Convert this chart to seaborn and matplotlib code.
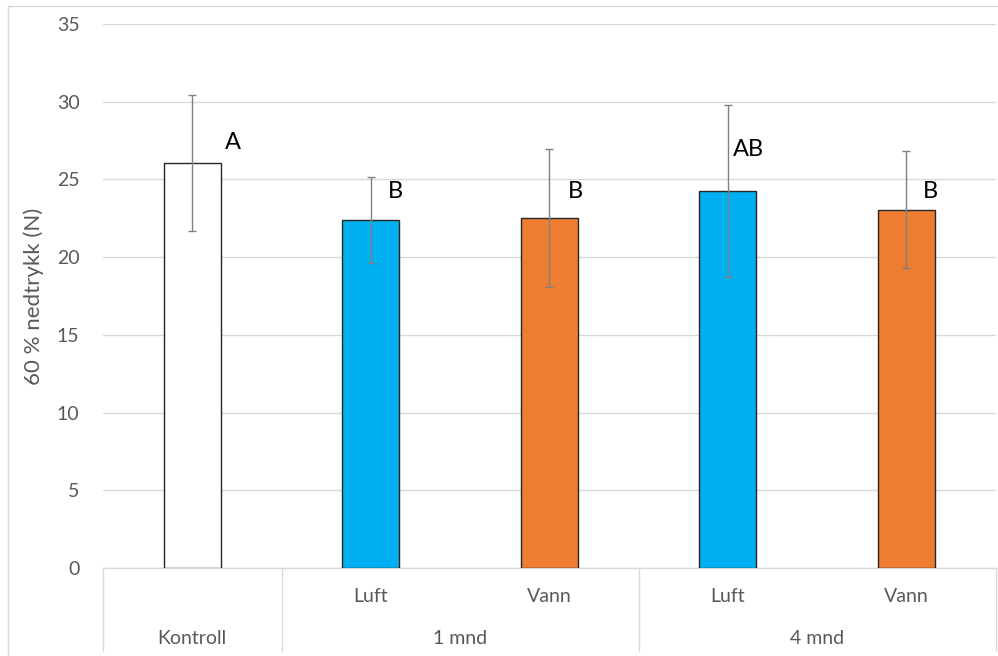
import numpy as np
import pandas as pd
import matplotlib
matplotlib.use("Agg")
import matplotlib.pyplot as plt
import matplotlib.transforms as mtransforms
import seaborn as sns

# ---- data ----
groups = ["Kontroll", "1 mnd", "1 mnd", "4 mnd", "4 mnd"]
treatments = ["", "Luft", "Vann", "Luft", "Vann"]
means = [26.05, 22.4, 22.5, 24.25, 23.05]
errors = [4.4, 2.75, 4.45, 5.55, 3.75]
letters = ["A", "B", "B", "AB", "B"]
letter_y = [27.35, 24.2, 24.2, 26.95, 24.2]
letter_dx = [0.23, 0.14, 0.145, 0.115, 0.135]
colors = ["#ffffff", "#00b0f0", "#ed7d31", "#00b0f0", "#ed7d31"]
group_labels = ["Kontroll", "1 mnd", "4 mnd"]
group_spans = [(0, 0), (1, 2), (3, 4)]
yticks = [0, 5, 10, 15, 20, 25, 30, 35]

sns.set_theme(style="white")
plt.rcParams["font.family"] = ["Lato", "DejaVu Sans"]

W, H = 998, 656
fig = plt.figure(figsize=(W / 100, H / 100), dpi=100)
left, right, top, bottom = 103, 995.5, 24, 568
ax = fig.add_axes([left / W, 1 - bottom / H, (right - left) / W, (bottom - top) / H])

keys = [f"bar{i}" for i in range(len(means))]
df = pd.DataFrame({"key": keys, "value": means})
sns.barplot(data=df, x="key", y="value", hue="key", palette=dict(zip(keys, colors)),
            order=keys, width=0.32, edgecolor="#262626", linewidth=1.0, saturation=1,
            legend=False, errorbar=None, ax=ax, zorder=3)

xs = np.arange(len(means))
ax.errorbar(xs, means, yerr=errors, fmt="none", ecolor="#808080",
            elinewidth=1.0, capsize=3, capthick=1.0, zorder=4)

for i, (lab, ly, dx) in enumerate(zip(letters, letter_y, letter_dx)):
    ax.text(i + dx, ly, lab, ha="center", va="center", fontsize=17, color="black", zorder=5)

ax.set_xlim(-0.5, len(means) - 0.5)
ax.set_ylim(0, 35)
ax.set_yticks(yticks)
ax.set_yticklabels([str(t) for t in yticks], color="#595959", fontsize=14)
ax.tick_params(axis="y", length=0, pad=17)
ax.yaxis.grid(True, color="#d9d9d9", linewidth=1.0, zorder=0)
ax.set_axisbelow(True)
for s in ["top", "right", "left"]:
    ax.spines[s].set_visible(False)
ax.spines["bottom"].set_color("#d9d9d9")
ax.spines["bottom"].set_linewidth(1.0)
ax.set_xticks([])
ax.set_xlabel("")
ax.set_ylabel("60 % nedtrykk (N)", color="#595959", fontsize=16, labelpad=8)
ax.yaxis.set_label_coords(-(left - 44) / (right - left), 0.5)

# multi-level category table under x-axis
axh = bottom - top
trans = mtransforms.blended_transform_factory(ax.transData, ax.transAxes)
row1 = -(597 - bottom) / axh
row2 = -(638 - bottom) / axh
tbot = -(651 - bottom) / axh
for i, t in enumerate(treatments):
    if t:
        ax.text(i, row1, t, transform=trans, ha="center", va="center",
                color="#595959", fontsize=14, clip_on=False)
bounds = set()
for lab, (a, b) in zip(group_labels, group_spans):
    ax.text((a + b) / 2, row2, lab, transform=trans, ha="center", va="center",
            color="#595959", fontsize=14, clip_on=False)
    bounds.add(a - 0.5)
    bounds.add(b + 0.5)
for bx in sorted(bounds):
    ax.plot([bx, bx], [0, tbot], transform=trans, color="#d9d9d9",
            linewidth=1.0, clip_on=False, zorder=1)

# outer chart border
fig.add_artist(plt.Line2D([8 / W, 8 / W], [0, 1 - 6 / H], color="#d9d9d9", linewidth=1.0))
fig.add_artist(plt.Line2D([8 / W, 1], [1 - 6 / H, 1 - 6 / H], color="#d9d9d9", linewidth=1.0))

fig.savefig("out.png", dpi=100)
